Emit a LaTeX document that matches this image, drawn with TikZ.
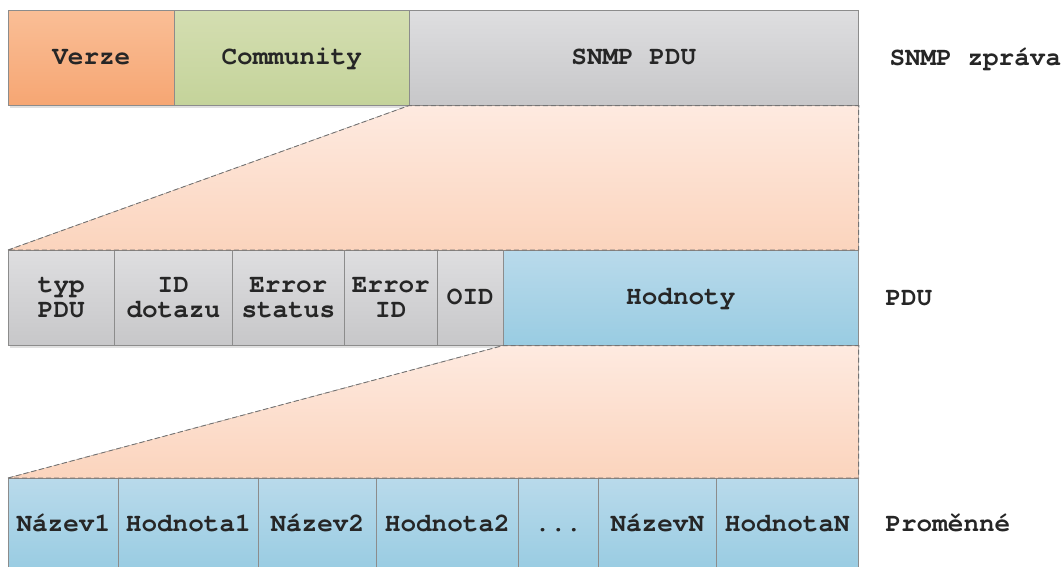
\documentclass[tikz,border=0pt]{standalone}
\usepackage{fontspec}
\newfontfamily\cursorfam{texgyrecursor}[Extension=.otf, UprightFont=*-regular, BoldFont=*-bold]
\newcommand\cellfont{\fontsize{26}{25}\selectfont\cursorfam\bfseries}
\begin{document}
\begin{tikzpicture}[x=1pt,y=-1pt,
  every node/.style={text=black!85, font=\cellfont},
  cell/.style={draw=black!45, line width=0.6pt, anchor=north west, inner sep=0pt,
    minimum height=95pt, align=center},
  oneline/.style={text height=1.52em, text depth=0.1em},
  orangecell/.style={cell, top color={rgb,255:red,250;green,190;blue,150}, bottom color={rgb,255:red,246;green,166;blue,115}},
  greencell/.style={cell, top color={rgb,255:red,212;green,222;blue,177}, bottom color={rgb,255:red,196;green,211;blue,154}},
  graycell/.style={cell, top color={rgb,255:red,222;green,222;blue,224}, bottom color={rgb,255:red,199;green,199;blue,201}},
  bluecell/.style={cell, top color={rgb,255:red,185;green,218;blue,235}, bottom color={rgb,255:red,153;green,204;blue,226}},
  zoomarea/.style={top color={rgb,255:red,254;green,234;blue,224}, bottom color={rgb,255:red,251;green,212;blue,189}},
  zoomedge/.style={draw=black!55, line width=0.9pt, dash pattern=on 5pt off 3pt},
  shadow/.style={fill=black!12},
  rowlabel/.style={anchor=west, oneline}
]
\clip (0,0) rectangle (1063,566);
\fill[white] (0,0) rectangle (1063,566);

% soft drop shadows under the rows
\fill[shadow] (10,105) rectangle (860,108);
\fill[shadow] (10,345) rectangle (860,348);

% --- SNMP message ---
\node[orangecell, oneline, minimum width=166pt] (verze) at (8,10) {Verze};
\node[greencell, oneline, minimum width=235pt] (comm) at (174,10) {Community};
\node[graycell, oneline, minimum width=449pt] (spdu) at (409,10) {SNMP PDU};

% --- PDU ---
\node[graycell, minimum width=106pt] (typ) at (8,250) {typ\\PDU};
\node[graycell, minimum width=118pt] (iddot) at (114,250) {ID\\dotazu};
\node[graycell, minimum width=112pt] (estat) at (232,250) {Error\\status};
\node[graycell, minimum width=93pt] (eid) at (344,250) {Error\\ID};
\node[graycell, oneline, minimum width=66pt] (oid) at (437,250) {OID};
\node[bluecell, oneline, minimum width=355pt] (hodnoty) at (503,250) {Hodnoty};

% --- variables ---
\tikzset{varcell/.style={bluecell, oneline, minimum height=92pt}}
\node[varcell, minimum width=110pt] (naz1) at (8,478) {Název1};
\node[varcell, minimum width=140pt] (hod1) at (118,478) {Hodnota1};
\node[varcell, minimum width=118pt] (naz2) at (258,478) {Název2};
\node[varcell, minimum width=142pt] (hod2) at (376,478) {Hodnota2};
\node[varcell, minimum width=80pt] (dots) at (518,478) {...};
\node[varcell, minimum width=118pt] (nazN) at (598,478) {NázevN};
\node[varcell, minimum width=142pt] (hodN) at (716,478) {HodnotaN};

% --- zoom-in areas ---
\fill[zoomarea] (spdu.south west) -- (spdu.south east) -- (hodnoty.north east) -- (typ.north west) -- cycle;
\draw[zoomedge] (typ.north west) -- (spdu.south west) -- (spdu.south east) -- (hodnoty.north east) -- cycle;
\fill[zoomarea] (hodnoty.south west) -- (hodnoty.south east) -- (hodN.north east) -- (naz1.north west) -- cycle;
\draw[zoomedge] (naz1.north west) -- (hodnoty.south west) -- (hodnoty.south east) -- (hodN.north east) -- cycle;

% --- row labels ---
\node[rowlabel] (lmsg) at (886,58) {SNMP zpráva};
\node[rowlabel] (lpdu) at (882,298) {PDU};
\node[rowlabel] (lvar) at (882,524) {Proměnné};
\end{tikzpicture}
\end{document}
